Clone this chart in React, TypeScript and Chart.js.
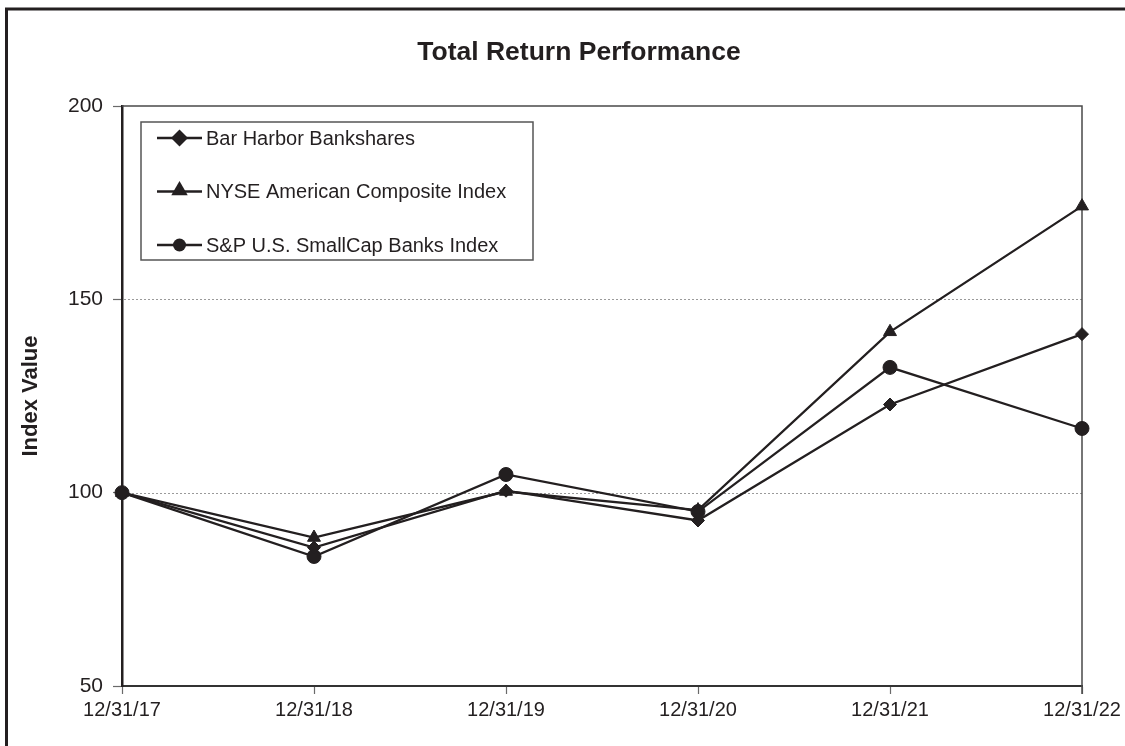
import React, { useEffect, useRef } from "react";
import { Chart, registerables } from "chart.js";

Chart.register(...registerables);

const categories = ["12/31/17", "12/31/18", "12/31/19", "12/31/20", "12/31/21", "12/31/22"];
const barHarbor = [100, 85.8, 100.5, 92.8, 122.8, 141.0];
const nyseAmerican = [100, 88.4, 100.3, 95.5, 141.6, 174.1];
const spSmallCapBanks = [100, 83.5, 104.7, 95.1, 132.4, 116.6];
const seriesNames = ["Bar Harbor Bankshares", "NYSE American Composite Index", "S&P U.S. SmallCap Banks Index"];
const yTicks = [50, 100, 150, 200];
const dottedGrid = [100, 150];
const chartTitle = "Total Return Performance";
const yAxisTitle = "Index Value";

const INK = "#231f20";
const FONT = '"Liberation Sans", Arial, Helvetica, sans-serif';

function drawMarker(ctx: CanvasRenderingContext2D, style: string, x: number, y: number, r: number) {
  ctx.beginPath();
  if (style === "rectRot") {
    ctx.moveTo(x, y - r);
    ctx.lineTo(x + r, y);
    ctx.lineTo(x, y + r);
    ctx.lineTo(x - r, y);
    ctx.closePath();
  } else if (style === "triangle") {
    ctx.moveTo(x, y - r);
    ctx.lineTo(x + r * Math.sin((2 * Math.PI) / 3), y - r * Math.cos((2 * Math.PI) / 3));
    ctx.lineTo(x + r * Math.sin((4 * Math.PI) / 3), y - r * Math.cos((4 * Math.PI) / 3));
    ctx.closePath();
  } else {
    ctx.arc(x, y, r, 0, Math.PI * 2);
  }
  ctx.fill();
}

const decorPlugin = {
  id: "decor",
  beforeDatasetsDraw(chart: any) {
    const { ctx, chartArea: a, scales } = chart;
    const y = scales.y;
    ctx.save();
    ctx.strokeStyle = "#9a9a9a";
    ctx.lineWidth = 1;
    ctx.setLineDash([2, 2]);
    for (const v of dottedGrid) {
      const py = Math.round(y.getPixelForValue(v)) + 0.5;
      ctx.beginPath();
      ctx.moveTo(a.left + 2, py);
      ctx.lineTo(a.right, py);
      ctx.stroke();
    }
    ctx.setLineDash([]);
    ctx.strokeStyle = "#4a4a4a";
    ctx.lineWidth = 1.5;
    const top = y.getPixelForValue(yTicks[yTicks.length - 1]);
    ctx.beginPath();
    ctx.moveTo(a.left, top);
    ctx.lineTo(a.right, top);
    ctx.lineTo(a.right, a.bottom + 8);
    ctx.stroke();
    ctx.restore();
  },
  afterDraw(chart: any) {
    const { ctx } = chart;
    ctx.save();
    // outer frame
    ctx.strokeStyle = INK;
    ctx.lineWidth = 3;
    ctx.beginPath();
    ctx.moveTo(6.5, 760);
    ctx.lineTo(6.5, 9);
    ctx.lineTo(1140, 9);
    ctx.stroke();
    // title
    ctx.fillStyle = INK;
    ctx.font = `bold 26.5px ${FONT}`;
    ctx.textAlign = "center";
    ctx.textBaseline = "middle";
    ctx.fillText(chartTitle, 579, 53);
    // legend
    const bx = 141, by = 122, bw = 392, bh = 138;
    ctx.fillStyle = "#ffffff";
    ctx.fillRect(bx, by, bw, bh);
    ctx.strokeStyle = "#555555";
    ctx.lineWidth = 1.5;
    ctx.strokeRect(bx, by, bw, bh);
    chart.data.datasets.forEach((ds: any, i: number) => {
      const ry = 138 + i * 53.5;
      ctx.strokeStyle = INK;
      ctx.lineWidth = 2.3;
      ctx.beginPath();
      ctx.moveTo(157, ry);
      ctx.lineTo(202, ry);
      ctx.stroke();
      ctx.fillStyle = INK;
      const r = ds.pointStyle === "rectRot" ? 8.5 : ds.pointStyle === "triangle" ? 9.5 : 6.5;
      drawMarker(ctx, ds.pointStyle, 179.5, ds.pointStyle === "triangle" ? ry - 1 : ry, r);
      ctx.font = `20px ${FONT}`;
      ctx.textAlign = "left";
      ctx.textBaseline = "middle";
      ctx.fillText(ds.label, 206, ry + 1);
    });
    ctx.restore();
  },
};

export default function App() {
  const canvasRef = useRef<HTMLCanvasElement | null>(null);

  useEffect(() => {
    if (!canvasRef.current) return;
    const mk = (label: string, data: number[], pointStyle: string, radius: number) => ({
      label,
      data,
      pointStyle,
      pointRadius: radius,
      pointHoverRadius: radius,
      borderColor: INK,
      backgroundColor: INK,
      pointBackgroundColor: INK,
      pointBorderColor: INK,
      pointBorderWidth: 1,
      borderWidth: 2.3,
      tension: 0,
      fill: false,
    });
    const chart = new Chart(canvasRef.current, {
      type: "line",
      data: {
        labels: categories,
        datasets: [
          mk(seriesNames[0], barHarbor, "rectRot", 6.5),
          mk(seriesNames[1], nyseAmerican, "triangle", 7.5),
          mk(seriesNames[2], spSmallCapBanks, "circle", 7),
        ],
      },
      options: {
        responsive: false,
        animation: false,
        devicePixelRatio: 1,
        layout: { padding: { left: 0, top: 106, right: 43, bottom: 20 } },
        plugins: {
          legend: { display: false },
          title: { display: false },
          tooltip: { enabled: false },
        },
        scales: {
          x: {
            type: "category",
            offset: false,
            grid: {
              drawOnChartArea: false,
              drawTicks: true,
              tickLength: 8,
              tickColor: "#6a6a6a",
              tickWidth: 1.2,
            },
            border: { display: true, color: "#333333", width: 2 },
            ticks: {
              color: INK,
              font: { family: FONT, size: 20 },
              padding: 4,
              maxRotation: 0,
              autoSkip: false,
            },
            afterFit: (s: any) => {
              s.height = 40;
              s.paddingLeft = 0;
              s.paddingRight = 0;
            },
          },
          y: {
            min: 50,
            max: 200,
            afterBuildTicks: (s: any) => {
              s.ticks = yTicks.map((v) => ({ value: v }));
            },
            grid: {
              drawOnChartArea: false,
              drawTicks: true,
              tickLength: 9,
              tickColor: "#6a6a6a",
              tickWidth: 1.2,
            },
            border: { display: true, color: INK, width: 2.5 },
            ticks: {
              color: INK,
              font: { family: FONT, size: 21 },
              padding: 10,
            },
            title: {
              display: true,
              text: yAxisTitle,
              color: INK,
              font: { family: FONT, size: 22, weight: "bold" },
              padding: { top: 18, bottom: 0 },
            },
            afterFit: (s: any) => {
              s.width = 122;
              s.paddingTop = 0;
              s.paddingBottom = 0;
            },
          },
        },
      },
      plugins: [decorPlugin],
    } as any);
    return () => chart.destroy();
  }, []);

  return (
    <div style={{ position: "absolute", left: 0, top: 0, width: 1125, height: 746, background: "#ffffff", overflow: "hidden" }}>
      <canvas ref={canvasRef} width={1125} height={746} style={{ display: "block" }} />
    </div>
  );
}
